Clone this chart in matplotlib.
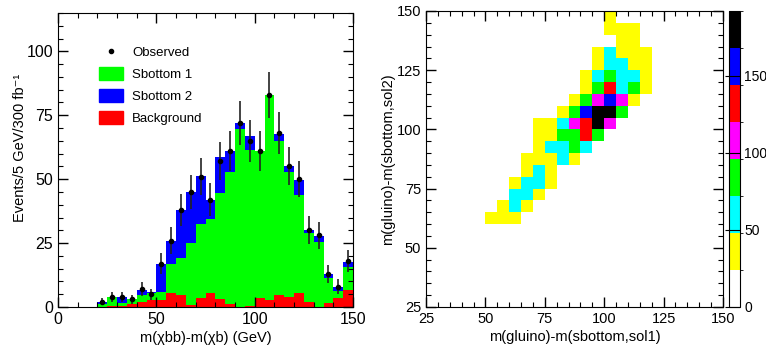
import numpy as np
import matplotlib
matplotlib.use("Agg")
import matplotlib.pyplot as plt
from matplotlib.colors import ListedColormap, BoundaryNorm
from matplotlib.lines import Line2D
from matplotlib.patches import Patch
from matplotlib.ticker import MultipleLocator

plt.rcParams['font.family'] = ['Liberation Sans', 'DejaVu Sans']
plt.rcParams['font.size'] = 8.5

# ---- left: stacked histogram, 5 GeV bins from 0 to 150
bin_edges = np.arange(0, 155, 5)
background = [0, 0, 0, 0, 0, 0.5, 0.5, 1, 2, 2.7,
              2.7, 5.6, 4.5, 0.6, 3.4, 5.5, 3.3, 1, 0, 0.3,
              3.7, 2.8, 4.5, 4, 5.6, 2.1, 0, 1.4, 3.4, 6.6]
sbottom1 = [0, 0, 0, 0, 1, 3.5, 1, 2, 2.5, 2.8,
            3.1, 11.2, 14.5, 24.4, 29.1, 29, 41.4, 51.7, 69.5, 61.2,
            57.3, 80.2, 60.3, 48.7, 38.2, 26.7, 25.6, 9.8, 3, 9.2]
sbottom2 = [0, 0, 0, 0, 1, 0, 2.5, 0, 2.3, 0.5,
            11, 9, 19, 20, 18.7, 7.5, 14.1, 8.5, 2.5, 5.5,
            0, 0, 2.9, 2.3, 5.9, 1.2, 2.3, 1.7, 1.6, 1.9]

obs_x = [22.5, 27.5, 32.5, 37.5, 42.5, 47.5, 52.5, 57.5, 62.5, 67.5, 72.5, 77.5, 82.5,
         87.5, 92.5, 97.5, 102.5, 107.5, 112.5, 117.5, 122.5, 127.5, 132.5, 137.5, 142.5, 147.5]
obs_y = [2, 4, 4, 3, 7, 5, 17, 26, 38, 45, 51, 42, 57,
         61, 72, 65, 61, 83, 68, 55, 50, 30, 28, 13, 8, 18]
obs_err = [1.4, 2, 2, 1.7, 2.6, 2.2, 4.1, 5.1, 6.2, 6.7, 7.1, 6.5, 7.5,
           7.8, 8.5, 8.1, 7.8, 9.1, 8.2, 7.4, 7.1, 5.5, 5.3, 3.6, 2.8, 4.2]

# ---- right: 2D histogram cells (lower-left corner, 5x5 bins) and their counts
cell_x = [100,
          100, 105, 110,
          105, 110,
          95, 100, 105, 110, 115,
          95, 100, 105, 110, 115,
          90, 95, 100, 105, 110, 115,
          90, 95, 100, 105, 110, 115,
          85, 90, 95, 100, 105, 110,
          80, 85, 90, 95, 100, 105,
          70, 75, 80, 85, 90, 95, 100,
          70, 75, 80, 85, 90, 95,
          70, 75, 80, 85, 90,
          65, 70, 75, 80, 85,
          65, 70, 75,
          60, 65, 70, 75,
          60, 65, 70,
          55, 60, 65,
          50, 55, 60]
cell_y = [145,
          140, 140, 140,
          135, 135,
          130, 130, 130, 130, 130,
          125, 125, 125, 125, 125,
          120, 120, 120, 120, 120, 120,
          115, 115, 115, 115, 115, 115,
          110, 110, 110, 110, 110, 110,
          105, 105, 105, 105, 105, 105,
          100, 100, 100, 100, 100, 100, 100,
          95, 95, 95, 95, 95, 95,
          90, 90, 90, 90, 90,
          85, 85, 85, 85, 85,
          80, 80, 80,
          75, 75, 75, 75,
          70, 70, 70,
          65, 65, 65,
          60, 60, 60]
cell_n = [35,
          35, 35, 35,
          35, 35,
          35, 60, 35, 35, 35,
          35, 60, 60, 35, 35,
          35, 60, 84, 60, 60, 35,
          35, 84, 132, 60, 84, 35,
          35, 84, 108, 156, 108, 35,
          35, 84, 156, 180, 180, 84,
          35, 35, 60, 108, 132, 180, 108,
          35, 35, 84, 84, 132, 84,
          35, 60, 60, 84, 60,
          35, 35, 35, 60, 35,
          35, 60, 35,
          35, 60, 60, 35,
          60, 60, 35,
          35, 60, 35,
          35, 35, 35]

level_edges = [0, 24, 48, 72, 96, 120, 144, 168, 192]
level_colors = ['white', '#ffff00', '#00ffff', '#00ff00', '#ff00ff', '#ff0000', '#0000ff', 'black']

fig = plt.figure(figsize=(7.66, 3.45), dpi=100)
W, H = 766.0, 345.0

# ---------------- left panel
ax1 = fig.add_axes([58 / W, 38 / H, 295 / W, 294 / H])
lo = bin_edges[:-1]
b1 = np.array(background)
b2 = b1 + np.array(sbottom1)
ax1.bar(lo, background, width=5, align='edge', color='#ff0000', linewidth=0)
ax1.bar(lo, sbottom1, width=5, align='edge', bottom=b1, color='#00ff00', linewidth=0)
ax1.bar(lo, sbottom2, width=5, align='edge', bottom=b2, color='#0000ff', linewidth=0)
ax1.errorbar(obs_x, obs_y, yerr=obs_err, fmt='o', color='black', ecolor='#222222',
             markersize=3, elinewidth=1.2, capsize=0)

ax1.set_xlim(0, 150)
ax1.set_ylim(0, 115)
ax1.xaxis.set_major_locator(MultipleLocator(50))
ax1.xaxis.set_minor_locator(MultipleLocator(10))
ax1.yaxis.set_major_locator(MultipleLocator(25))
ax1.yaxis.set_minor_locator(MultipleLocator(5))
ax1.tick_params(which='both', direction='in', top=True, right=True, labelsize=11.5)
ax1.tick_params(which='major', length=7, width=1)
ax1.tick_params(which='minor', length=3.5, width=0.8)
ax1.set_xlabel('m(χbb)-m(χb) (GeV)', fontsize=10.5, labelpad=3)
ax1.set_ylabel('Events/5 GeV/300 fb⁻¹', fontsize=10.5)
ax1.yaxis.set_label_coords(-0.105, 0.54)

handles = [Line2D([], [], marker='o', linestyle='none', color='black', markersize=3),
           Patch(color='#00ff00'), Patch(color='#0000ff'), Patch(color='#ff0000')]
ax1.legend(handles, ['Observed', 'Sbottom 1', 'Sbottom 2', 'Background'],
           loc='upper left', bbox_to_anchor=(0.1, 0.93), frameon=False, fontsize=9.5,
           handlelength=1.8, handleheight=1.1, labelspacing=0.62, handletextpad=0.7)

# ---------------- right panel
ax2 = fig.add_axes([426 / W, 38 / H, 297 / W, 296 / H])
grid_edges = np.arange(25, 155, 5)
counts = np.zeros((len(grid_edges) - 1, len(grid_edges) - 1))
for cx, cy, cn in zip(cell_x, cell_y, cell_n):
    counts[(cy - 25) // 5, (cx - 25) // 5] = cn
cmap = ListedColormap(level_colors)
norm = BoundaryNorm(level_edges, cmap.N)
mesh = ax2.pcolormesh(grid_edges, grid_edges, counts, cmap=cmap, norm=norm)

ax2.set_xlim(25, 150)
ax2.set_ylim(25, 150)
ax2.xaxis.set_major_locator(MultipleLocator(25))
ax2.xaxis.set_minor_locator(MultipleLocator(5))
ax2.yaxis.set_major_locator(MultipleLocator(25))
ax2.yaxis.set_minor_locator(MultipleLocator(5))
ax2.tick_params(which='both', direction='in', top=True, right=True, labelsize=10.5)
ax2.tick_params(which='major', length=7, width=1)
ax2.tick_params(which='minor', length=3.5, width=0.8)
ax2.set_xlabel('m(gluino)-m(sbottom,sol1)', fontsize=10.5, labelpad=3)
ax2.set_ylabel('m(gluino)-m(sbottom,sol2)', fontsize=10.5, labelpad=1)

cax = fig.add_axes([729 / W, 38 / H, 11 / W, 296 / H])
cbar = fig.colorbar(mesh, cax=cax, ticks=[0, 50, 100, 150])
cbar.outline.set_linewidth(0.8)
cax.tick_params(direction='in', length=11, width=0.8, labelsize=10, pad=3)

fig.savefig('out.png', dpi=100)
